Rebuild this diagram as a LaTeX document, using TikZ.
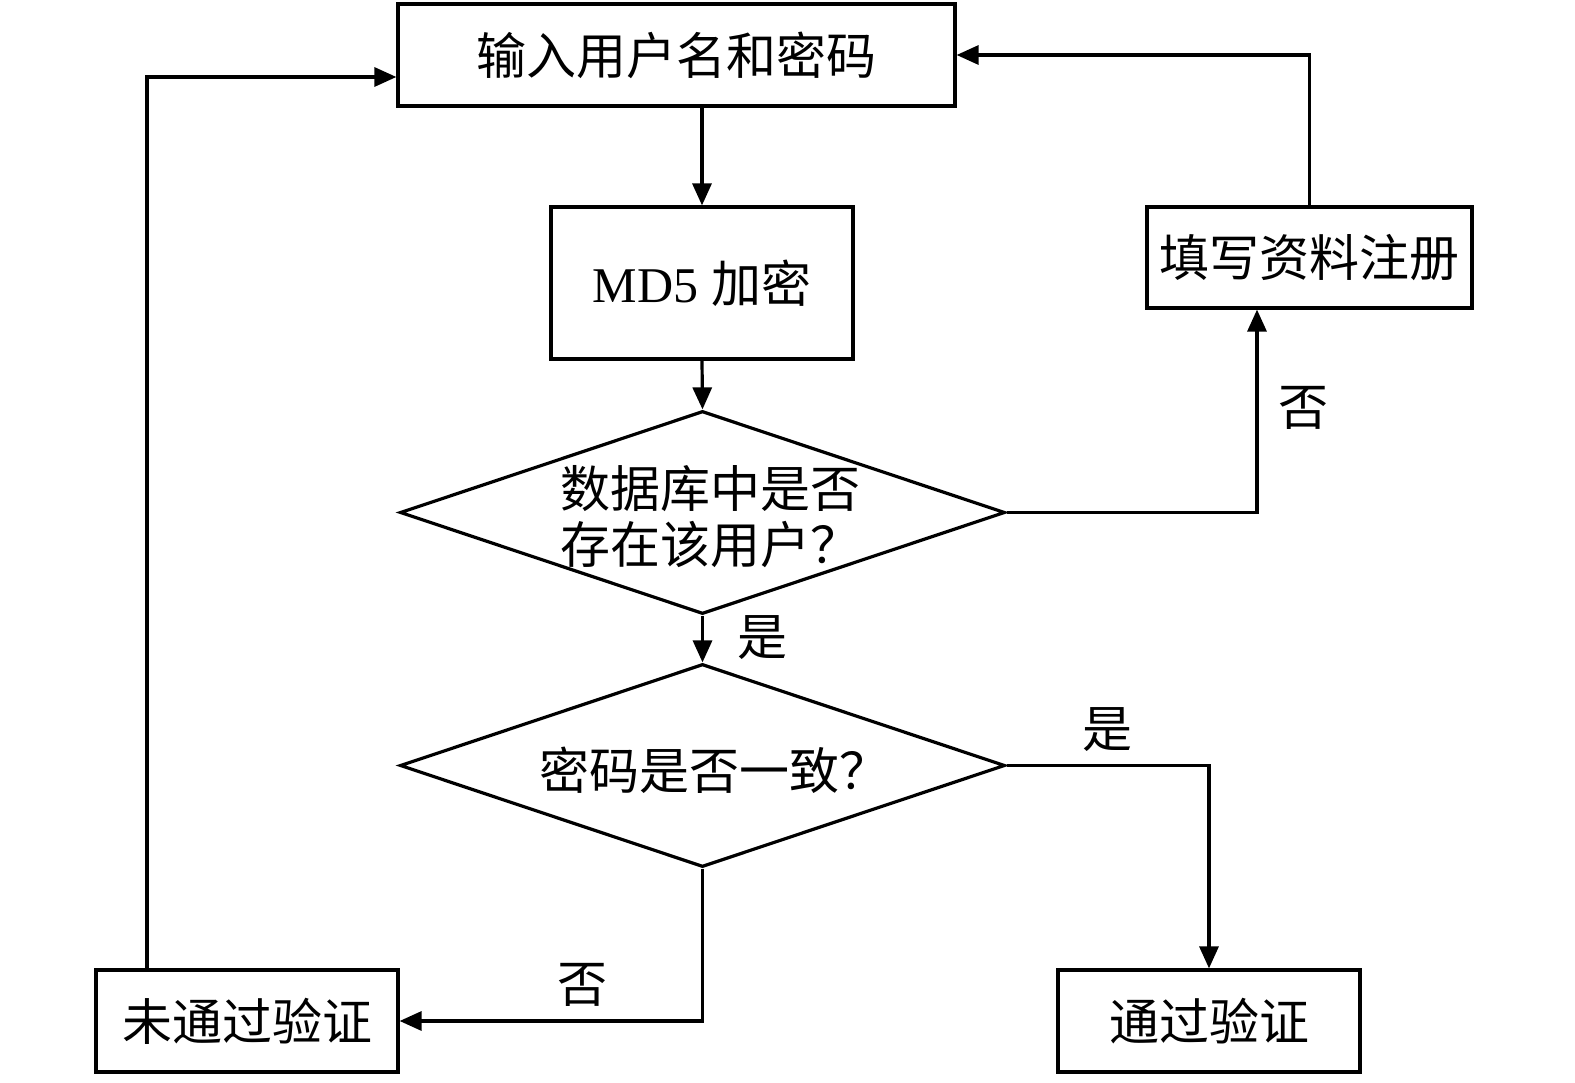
\documentclass[tikz,border=0pt]{standalone}
\usepackage{fontspec}
\setmainfont{Liberation Serif}
\newfontfamily\cjk{Noto Sans CJK SC}
\usetikzlibrary{shapes.geometric,arrows.meta}
\begin{document}
\begin{tikzpicture}[x=1pt,y=-1pt,
  box/.style={draw,line width=3.2pt,inner sep=0pt,font=\cjk\fontsize{50}{56}\selectfont},
  dia/.style={draw,diamond,line width=3.2pt,inner sep=0pt,minimum width=605pt,minimum height=203pt},
  txt/.style={font=\cjk\fontsize{50}{56}\selectfont,align=center,inner sep=0pt},
  conn/.style={line width=3.2pt},
  arr/.style={conn,-{Triangle[length=22pt,width=19pt]}}]
\useasboundingbox (0,0) rectangle (1575,1083);
\node[box,minimum width=557pt,minimum height=102pt] (top) at (676.5,55) {输入用户名和密码};
\node[box,minimum width=302pt,minimum height=152pt] (md5) at (702,283) {\fontsize{50}{56}\selectfont\rmfamily MD5 {\cjk 加密}};
\node[dia] (d1) at (702.5,512.5) {};
\node[txt] (d1t) at (710,517) {数据库中是否\\存在该用户？};
\node[dia] (d2) at (702.5,765.5) {};
\node[txt] (d2t) at (714,770) {密码是否一致？};
\node[box,minimum width=325pt,minimum height=101pt] (reg) at (1309.5,257.5) {填写资料注册};
\node[box,minimum width=302pt,minimum height=102pt] (fail) at (247,1021) {未通过验证};
\node[box,minimum width=302pt,minimum height=102pt] (pass) at (1209,1021) {通过验证};
\node[txt] (l1) at (1303,408) {否};
\node[txt] (l2) at (762,638) {是};
\node[txt] (l3) at (1107,730) {是};
\node[txt] (l4) at (582,985) {否};
\draw[arr] (md5.north |- top.south) -- (md5.north);
\draw[arr] (md5.south) -- (d1.north);
\draw[arr] (d1.south) -- (d2.north);
\draw[arr] (d1.east) -| ([xshift=-52.5pt]reg.south);
\draw[arr] (reg.north) |- (top.east);
\draw[arr] (d2.east) -| (pass.north);
\draw[arr] (d2.south) |- (fail.east);
\draw[arr] ([xshift=-100pt]fail.north) |- ([yshift=-22pt]top.west);
\end{tikzpicture}
\end{document}
